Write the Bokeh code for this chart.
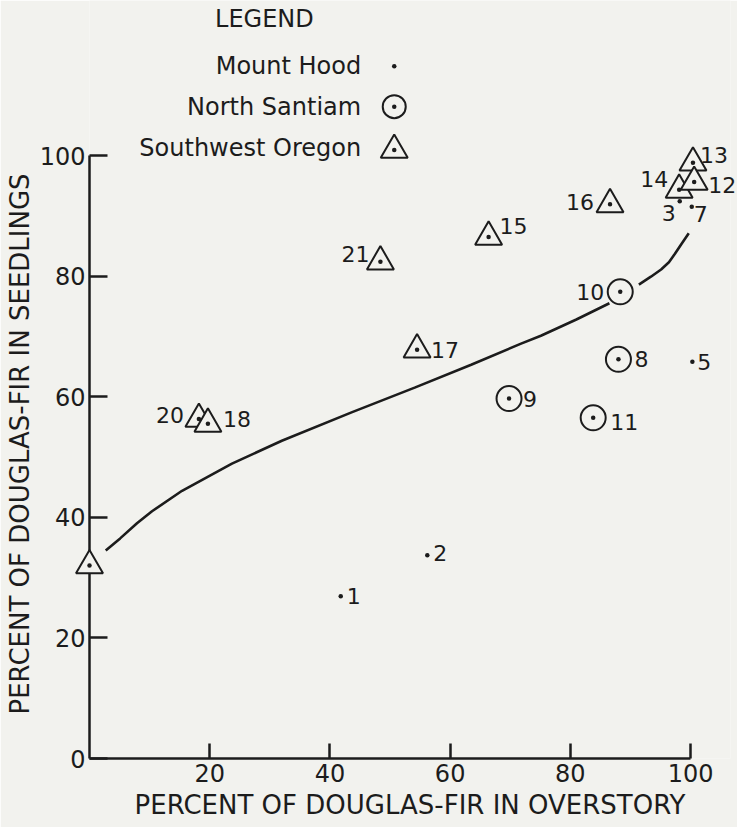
from bokeh.plotting import figure
from bokeh.models import ColumnDataSource, FixedTicker, Range1d, Title
from bokeh.core.properties import value
from bokeh.embed import file_html
from bokeh.resources import INLINE

# ---------------- data ----------------
mh_id = ["1", "2", "3", "5", "7"]                     # Mount Hood
mh_x = [41.8, 56.2, 98.2, 100.3, 100.2]
mh_y = [26.9, 33.7, 92.4, 65.8, 91.5]

ns_id = ["8", "9", "10", "11"]                        # North Santiam
ns_x = [88.0, 69.8, 88.3, 83.8]
ns_y = [66.2, 59.7, 77.4, 56.5]

sw_id = ["", "13", "14", "12", "15", "16", "17", "20", "18", "21"]   # Southwest Oregon
sw_x = [0.0, 100.4, 98.1, 100.6, 66.4, 86.6, 54.5, 18.2, 19.7, 48.4]
sw_y = [32.0, 98.8, 94.3, 95.6, 86.5, 91.9, 67.8, 56.3, 55.5, 82.4]

# fitted curve (broken where it passes through point 10)
curve_x = [2.7, 5.1, 7.9, 10.4, 15.4, 23.7, 32.0, 43.6, 54.1, 63.5, 71.8, 75.1, 81.0, 86.5,
           float("nan"), 91.4, 93.4, 95.1, 96.4, 97.4, 98.4, 99.7]
curve_y = [34.5, 36.5, 39.0, 41.0, 44.4, 48.9, 52.7, 57.4, 61.5, 65.3, 68.8, 70.1, 72.8, 75.5,
           float("nan"), 78.6, 79.9, 81.1, 82.3, 83.7, 85.2, 87.1]

x_ticks = [20, 40, 60, 80, 100]
y_ticks = [0, 20, 40, 60, 80, 100]
legend_title = "LEGEND"
legend_labels = ["Mount Hood", "North Santiam", "Southwest Oregon"]
x_title = "PERCENT OF DOUGLAS-FIR IN OVERSTORY"
y_title = "PERCENT OF DOUGLAS-FIR IN SEEDLINGS"

# ---------------- layout / style constants ----------------
BG = "#f2f2ee"
INK = "#1c1c1c"
FONT = "DejaVu Sans"
# label placement per point id: (align, dx px, dy px; dy positive = down)
label_layout = {
    "1": ("left", 6, 0), "2": ("left", 6, -2), "3": ("right", -4, 12), "5": ("left", 5, 0),
    "7": ("left", 2, 7), "8": ("left", 16, 0), "9": ("left", 14, 0), "10": ("right", -16, 0),
    "11": ("left", 17, 4), "12": ("left", 14, 3), "13": ("left", 7, -8), "14": ("right", -11, -11),
    "15": ("left", 11, -11), "16": ("right", -16, -2), "17": ("left", 14, 0), "18": ("left", 15, -5),
    "20": ("right", -15, -4), "21": ("right", -11, -8), "": ("left", 0, 0),
}
LEG_TITLE_X, LEG_TITLE_Y = 29.1, 122.7
LEG_TEXT_X, LEG_MARK_X = 45.2, 50.7
LEG_TEXT_Y = [114.8, 108.1, 101.3]
LEG_MARK_Y = [114.8, 108.1, 100.9]

W, H = 737, 827
p = figure(width=W, height=H, output_backend="svg", toolbar_location=None,
           x_range=Range1d(0, 642 / 6.02), y_range=Range1d(0, 758 / 6.03),
           min_border_left=88, min_border_right=7, min_border_top=0, min_border_bottom=69,
           background_fill_color=BG, border_fill_color=BG, outline_line_color=None)
p.grid.visible = False

for ax, ticks in ((p.xaxis[0], x_ticks), (p.yaxis[0], y_ticks)):
    ax.ticker = FixedTicker(ticks=ticks)
    ax.bounds = (0, 100)
    ax.axis_line_color = INK
    ax.axis_line_width = 2.5
    ax.major_tick_line_color = INK
    ax.major_tick_line_width = 2.5
    ax.major_tick_out = 0
    ax.minor_tick_line_color = None
    ax.major_label_text_font = FONT
    ax.major_label_text_font_size = "24px"
    ax.major_label_text_color = INK

p.xaxis.axis_label = x_title
p.xaxis.axis_label_text_font = FONT
p.xaxis.axis_label_text_font_size = "26px"
p.xaxis.axis_label_text_font_style = "normal"
p.xaxis.axis_label_text_color = INK
p.xaxis.major_tick_in = 15
p.xaxis.major_label_standoff = 5
p.xaxis.axis_label_standoff = 5
p.yaxis.major_tick_in = 18
p.yaxis.major_label_standoff = 4

# y-axis title: placed along the axis span as in the original
p.add_layout(Title(text=y_title, align="left", offset=44, vertical_align="bottom", standoff=4,
                   text_font=FONT, text_font_size="26px", text_font_style="normal",
                   text_color=INK), "left")

# regression curve
p.line(curve_x, curve_y, line_color=INK, line_width=2.6)

# markers
p.scatter(ns_x, ns_y, marker="circle", size=25, fill_color=BG, line_color=INK, line_width=2, level="overlay")
p.scatter(sw_x, sw_y, marker="triangle", size=27, fill_color=BG, line_color=INK, line_width=2, level="overlay")
p.scatter(mh_x + ns_x + sw_x, mh_y + ns_y + sw_y, marker="circle", size=4.5, fill_color=INK,
          line_color=None, level="overlay")

# point labels
ids = mh_id + ns_id + sw_id
lab = ColumnDataSource(dict(
    x=mh_x + ns_x + sw_x, y=mh_y + ns_y + sw_y, text=ids,
    align=[label_layout[i][0] for i in ids],
    dx=[label_layout[i][1] for i in ids],
    dy=[label_layout[i][2] for i in ids]))
p.text(x="x", y="y", text="text", source=lab, x_offset="dx", y_offset="dy", text_align="align",
       text_baseline="middle", text_font=value(FONT), text_font_size=value("22px"),
       text_color=INK, level="overlay")

# legend (drawn as in the original: label, then symbol to its right)
p.text(x=[LEG_TITLE_X], y=[LEG_TITLE_Y], text=[legend_title], text_align="center",
       text_baseline="middle", text_font=value(FONT), text_font_size=value("24px"),
       text_color=INK, level="overlay")
p.text(x=[LEG_TEXT_X] * 3, y=LEG_TEXT_Y, text=legend_labels, text_align="right",
       text_baseline="middle", text_font=value(FONT), text_font_size=value("24px"),
       text_color=INK, level="overlay")
p.scatter([LEG_MARK_X], [LEG_MARK_Y[1]], marker="circle", size=23, fill_color=BG, line_color=INK,
          line_width=2, level="overlay")
p.scatter([LEG_MARK_X], [LEG_MARK_Y[2]], marker="triangle", size=27, fill_color=BG, line_color=INK,
          line_width=2, level="overlay")
p.scatter([LEG_MARK_X] * 3, LEG_MARK_Y, marker="circle", size=4.5, fill_color=INK, line_color=None,
          level="overlay")

open("out.html", "w").write(file_html(p, INLINE))
